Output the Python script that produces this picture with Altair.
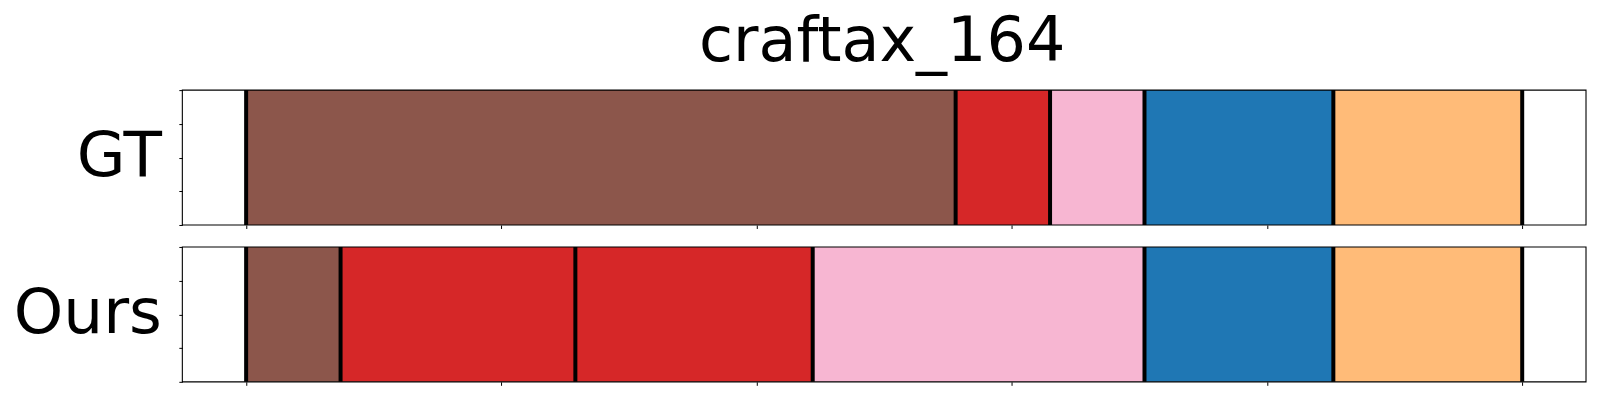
import altair as alt
import pandas as pd

title_text = "craftax_164"
row_labels = ["GT", "Ours"]
gt_bounds = [0, 278, 315, 352, 426, 500]
gt_classes = [10, 6, 13, 0, 3]
ours_bounds = [0, 37, 129, 222, 352, 426, 500]
ours_classes = [10, 6, 6, 13, 0, 3]
x_ticks = [0, 100, 200, 300, 400, 500]
y_ticks = [0, 0.25, 0.5, 0.75, 1]

X_DOMAIN = [-25, 525]
FONT = "DejaVu Sans"


def panel(label, bounds, classes, with_title):
    seg = pd.DataFrame({
        "start": bounds[:-1],
        "end": bounds[1:],
        "cls": [str(c) for c in classes],
        "y0": 0,
        "y1": 1,
    })
    bnd = pd.DataFrame({"b": bounds, "y0": 0, "y1": 1})
    frame = pd.DataFrame({"x0": [X_DOMAIN[0]], "x1": [X_DOMAIN[1]], "y0": [0], "y1": [1]})

    xs = alt.Scale(domain=X_DOMAIN, nice=False, zero=False)
    ys = alt.Scale(domain=[0, 1], nice=False, zero=False)
    xaxis = alt.Axis(values=x_ticks, labels=False, title=None, grid=False, domain=False,
                     ticks=True, tickSize=3.5, tickColor="black", tickWidth=1, zindex=1)
    yaxis = alt.Axis(values=y_ticks, labels=False, grid=False, domain=False, ticks=True,
                     tickSize=3.5, tickColor="black", tickWidth=1, title=label,
                     titleAngle=0, titleFontSize=63, titleFont=FONT, titleFontWeight="normal",
                     titleColor="black", titleAlign="right", titleBaseline="alphabetic",
                     titleX=-21, titleY=85.5, zindex=1)

    rects = alt.Chart(seg).mark_rect().encode(
        x=alt.X("start:Q", scale=xs, axis=xaxis),
        x2="end:Q",
        y=alt.Y("y0:Q", scale=ys, axis=yaxis),
        y2="y1:Q",
        color=alt.Color("cls:N", scale=alt.Scale(domain=[str(i) for i in range(20)],
                                                 scheme="category20"), legend=None),
    )
    rules = alt.Chart(bnd).mark_rule(color="black", strokeWidth=4).encode(
        x=alt.X("b:Q", scale=xs, axis=xaxis),
        y=alt.Y("y0:Q", scale=ys, axis=yaxis),
        y2="y1:Q",
    )
    box = alt.Chart(frame).mark_rect(fill="transparent", stroke="black", strokeWidth=1.1).encode(
        x=alt.X("x0:Q", scale=xs, axis=xaxis),
        x2="x1:Q",
        y=alt.Y("y0:Q", scale=ys, axis=yaxis),
        y2="y1:Q",
    )
    props = dict(width=1405, height=135)
    if with_title:
        props["title"] = alt.TitleParams(title_text, fontSize=62, font=FONT, fontWeight="normal",
                                         color="black", anchor="middle", frame="group", dx=-2,
                                         baseline="alphabetic", offset=-35)
    return alt.layer(rects, rules, box).properties(**props)


top = panel(row_labels[0], gt_bounds, gt_classes, True)
bottom = panel(row_labels[1], ours_bounds, ours_classes, False)

chart = alt.vconcat(top, bottom, spacing=16).properties(
    padding={"left": 4.5, "top": 3, "right": 5, "bottom": 5}
).configure_view(stroke=None)

chart.save("out.html", embed_options={"renderer": "svg", "actions": False})
